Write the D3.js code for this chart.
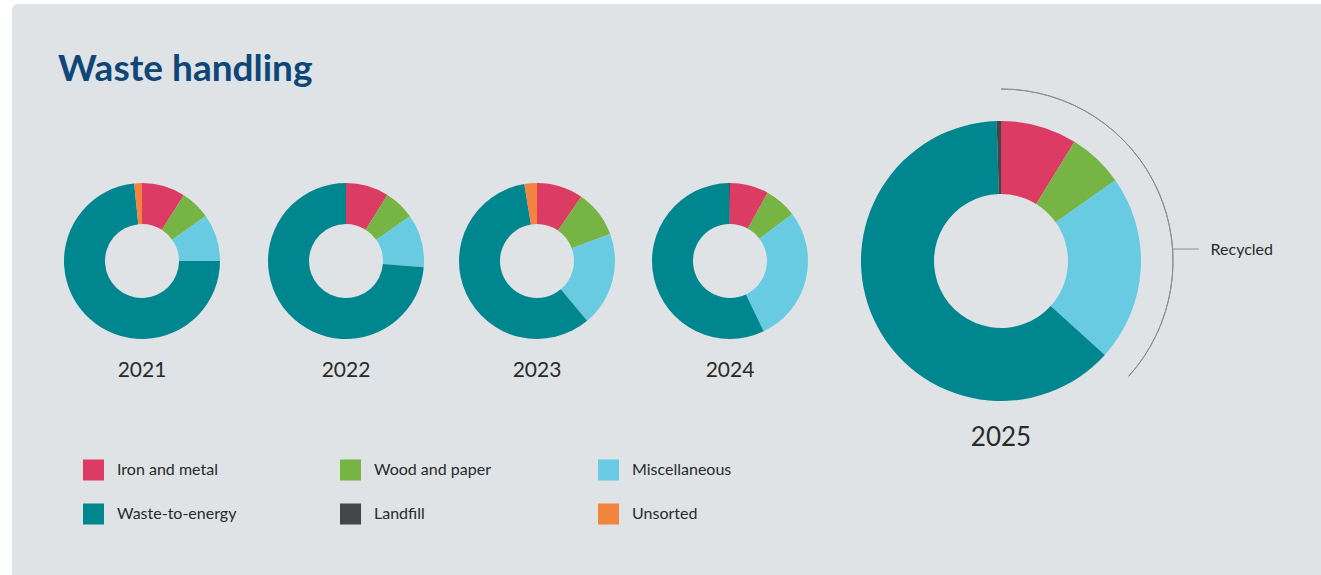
<!DOCTYPE html>
<html>
<head>
<meta charset="utf-8">
<script src="https://cdn.jsdelivr.net/npm/d3@7"></script>
<style>
  html, body { margin: 0; padding: 0; background: #ffffff; }
  svg { display: block; font-family: "Source Sans Pro", Lato, "Noto Sans", sans-serif; }
</style>
</head>
<body>
<svg id="chart" width="1321" height="575"></svg>
<script>
// Share of waste by handling method, per year (percent)
const years = ["2021", "2022", "2023", "2024", "2025"];
const categories = ["Iron and metal", "Wood and paper", "Miscellaneous", "Waste-to-energy", "Landfill", "Unsorted"];
const ironMetal     = [9.0, 8.9, 9.6, 8.0, 8.8];
const woodPaper     = [6.2, 6.4, 9.8, 6.7, 6.4];
const miscellaneous = [9.8, 11.0, 19.5, 28.2, 21.5];
const wasteToEnergy = [73.4, 73.7, 58.5, 56.9, 62.8];
const landfill      = [0.0, 0.0, 0.0, 0.2, 0.5];
const unsorted      = [1.6, 0.0, 2.6, 0.0, 0.0];
const recycledLabel = "Recycled";
const colors = ["#dc3c64", "#76b443", "#68cbe1", "#00868f", "#444548", "#f3843d"];

const series = [ironMetal, woodPaper, miscellaneous, wasteToEnergy, landfill, unsorted];
const recycledCount = 3; // first three categories are recycled

const svg = d3.select("#chart");

// background panel
svg.append("rect")
  .attr("x", 12).attr("y", 4)
  .attr("width", 1330).attr("height", 600)
  .attr("rx", 6)
  .attr("fill", "#dfe3e6");

svg.append("text")
  .attr("x", 58).attr("y", 81)
  .attr("fill", "#0e4677")
  .attr("font-size", 37)
  .attr("font-weight", 700)
  .text("Waste handling");

const pie = d3.pie().sort(null).value(d => d);
const color = d3.scaleOrdinal().domain(categories).range(colors);

// donut layout: four small ones, last year large
const smallCentres = [142, 346, 537, 730];
const layout = years.map((y, i) => i < 4
  ? { year: y, cx: smallCentres[i], cy: 261, r: 78, ri: 37, fs: 21, ly: 377 }
  : { year: y, cx: 1001, cy: 261, r: 140, ri: 67, fs: 26, ly: 446 });

layout.forEach((L, i) => {
  const values = series.map(s => s[i]);
  const arcs = pie(values);
  const arc = d3.arc().innerRadius(L.ri).outerRadius(L.r);
  const g = svg.append("g").attr("transform", `translate(${L.cx},${L.cy})`);
  g.selectAll("path")
    .data(arcs.filter(a => a.data > 0))
    .join("path")
    .attr("d", arc)
    .attr("fill", a => color(categories[a.index]));

  svg.append("text")
    .attr("x", L.cx).attr("y", L.ly)
    .attr("text-anchor", "middle")
    .attr("fill", "#2a2a2a")
    .attr("font-size", L.fs)
    .text(L.year);

  if (i === years.length - 1) {
    // bracket around the recycled share
    const endAngle = arcs[recycledCount - 1].endAngle;
    const rb = 172;
    g.append("path")
      .attr("d", d3.arc().innerRadius(rb).outerRadius(rb)({ startAngle: 0, endAngle }))
      .attr("fill", "none")
      .attr("stroke", "#8a8c8f")
      .attr("stroke-width", 1);
    const ty = -12;
    const tx = Math.sqrt(rb * rb - ty * ty);
    g.append("line")
      .attr("x1", tx).attr("x2", tx + 26)
      .attr("y1", ty).attr("y2", ty)
      .attr("stroke", "#8a8c8f").attr("stroke-width", 1);
    g.append("text")
      .attr("x", tx + 38).attr("y", ty + 5.5)
      .attr("fill", "#2a2a2a")
      .attr("font-size", 16)
      .text(recycledLabel);
  }
});

// legend, three columns by two rows
const legendX = [83, 340, 598];
const legendY = [470, 514];
const legend = svg.append("g").selectAll("g")
  .data(categories)
  .join("g")
  .attr("transform", (d, i) => `translate(${legendX[i % 3]},${legendY[Math.floor(i / 3)]})`);
legend.append("rect")
  .attr("x", 0).attr("y", -10.5)
  .attr("width", 21).attr("height", 21)
  .attr("fill", d => color(d));
legend.append("text")
  .attr("x", 34).attr("y", 5)
  .attr("fill", "#2a2a2a")
  .attr("font-size", 16)
  .text(d => d);
</script>
</body>
</html>
